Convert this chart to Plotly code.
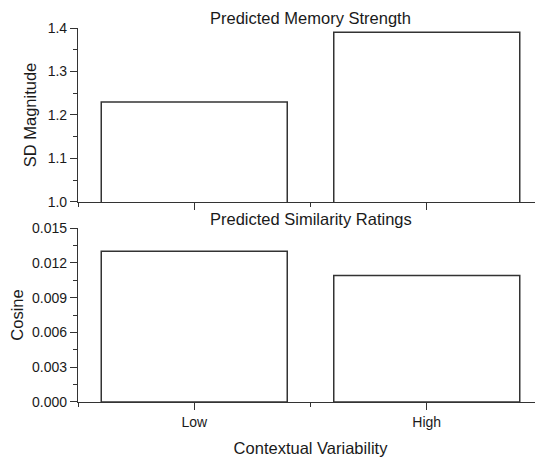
import plotly.graph_objects as go
from plotly.subplots import make_subplots

categories = ["Low", "High"]
memory_strength = [1.23, 1.39]
similarity = [0.013, 0.0109]
top_title = "Predicted Memory Strength"
bottom_title = "Predicted Similarity Ratings"
x_title = "Contextual Variability"
top_ytitle = "SD Magnitude"
bottom_ytitle = "Cosine"

xpos = list(range(len(categories)))

fig = make_subplots(rows=2, cols=1, shared_xaxes=False, vertical_spacing=0.0)

bar_style = dict(marker=dict(color="white", line=dict(color="#333333", width=1.5)), width=0.8, showlegend=False)
fig.add_trace(go.Bar(x=xpos, y=memory_strength, **bar_style), row=1, col=1)
fig.add_trace(go.Bar(x=xpos, y=similarity, **bar_style), row=2, col=1)

font = dict(family="Liberation Sans, Arial, sans-serif", color="#1a1a1a")
axis_common = dict(showline=True, linecolor="#333333", linewidth=1.2, ticks="outside",
                   tickcolor="#333333", ticklen=7, tickwidth=1, showgrid=False, zeroline=False,
                   tickfont=dict(size=14, **font))

fig.update_xaxes(**axis_common, range=[-0.5, 1.5], tickvals=xpos, ticktext=categories,
                 minor=dict(ticks="outside", tick0=0.5, dtick=1, ticklen=4, tickcolor="#333333"))
fig.update_xaxes(showticklabels=False, row=1, col=1)
fig.update_xaxes(title=dict(text=x_title, font=dict(size=16.5, **font), standoff=13), row=2, col=1)

fig.update_yaxes(**axis_common)
fig.update_yaxes(range=[1.0, 1.4], dtick=0.1, tickformat=".1f",
                 minor=dict(ticks="outside", dtick=0.05, ticklen=4, tickcolor="#333333"),
                 title=dict(text=top_ytitle, font=dict(size=16.5, **font), standoff=6),
                 domain=[0.5348, 1.0], row=1, col=1)
fig.update_yaxes(range=[0, 0.015], dtick=0.003, tickformat=".3f",
                 minor=dict(ticks="outside", dtick=0.0015, ticklen=4, tickcolor="#333333"),
                 title=dict(text=bottom_ytitle, font=dict(size=16.5, **font), standoff=7),
                 domain=[0.0, 0.4652], row=2, col=1)

fig.update_layout(
    width=535, height=452,
    margin=dict(l=70, r=0, t=20, b=58),
    paper_bgcolor="white", plot_bgcolor="white",
    font=font,
    annotations=[
        dict(text=top_title, xref="paper", yref="paper", x=0.5, y=1.0, yshift=10,
             xanchor="center", yanchor="middle", showarrow=False, font=dict(size=16.5, **font)),
        dict(text=bottom_title, xref="paper", yref="paper", x=0.5, y=0.5348, yshift=-17,
             xanchor="center", yanchor="middle", showarrow=False, font=dict(size=16.5, **font)),
    ],
)

fig.write_html("out.html")
